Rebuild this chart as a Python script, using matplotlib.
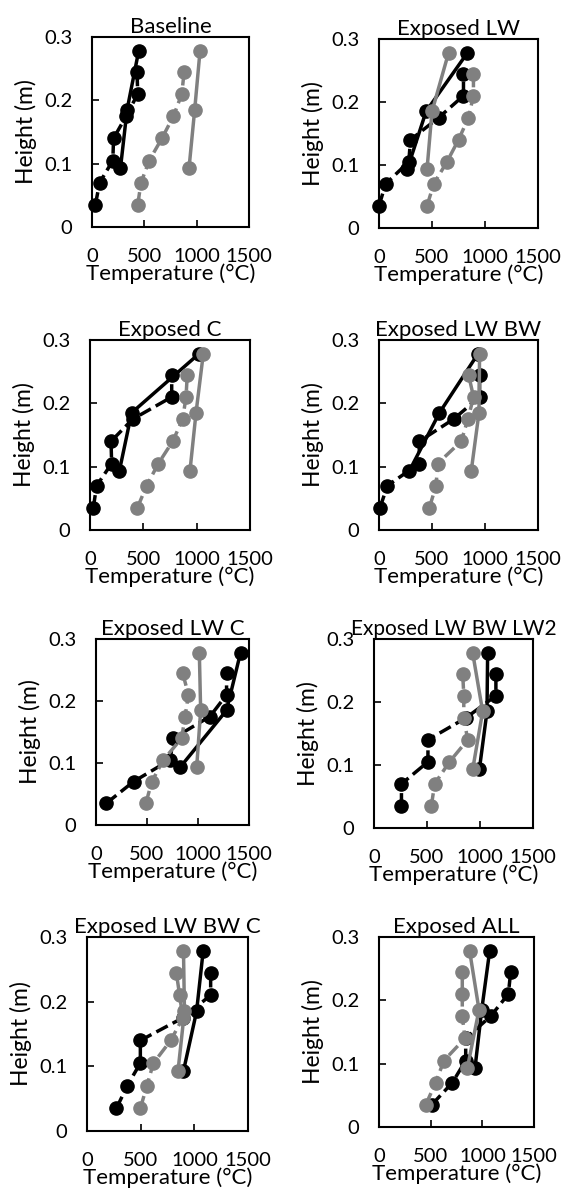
import matplotlib
matplotlib.use("Agg")
import matplotlib.pyplot as plt

plt.rcParams['font.family'] = ['Lato', 'DejaVu Sans']

# heights of the thermocouples (m)
h_solid = [0.093, 0.185, 0.278]
h_dash = [0.035, 0.070, 0.105, 0.140, 0.175, 0.210, 0.245]

titles = ['Baseline', 'Exposed LW', 'Exposed C', 'Exposed LW BW',
          'Exposed LW C', 'Exposed LW BW LW2', 'Exposed LW BW C', 'Exposed ALL']

# temperatures (°C), one list per panel
black_solid = [
    [272, 335, 446],
    [266, 444, 834],
    [275, 390, 1020],
    [285, 570, 933],
    [824, 1280, 1417],
    [994, 1066, 1072],
    [899, 1021, 1082],
    [929, 994, 1071],
]
black_dash = [
    [32, 73, 199, 206, 326, 437, 430],
    [0, 62, 281, 297, 562, 797, 797],
    [31, 62, 203, 197, 400, 766, 766],
    [9, 79, 380, 380, 703, 949, 949],
    [101, 368, 726, 759, 1117, 1280, 1280],
    [259, 259, 509, 509, 869, 1150, 1150],
    [274, 375, 497, 497, 893, 1152, 1152],
    [510, 710, 839, 839, 1081, 1252, 1274],
]
gray_solid = [
    [927, 981, 1032],
    [453, 500, 656],
    [937, 994, 1062],
    [870, 943, 949],
    [987, 1026, 1013],
    [931, 1025, 931],
    [848, 908, 899],
    [855, 968, 877],
]
gray_dash = [
    [437, 468, 547, 668, 778, 858, 880],
    [453, 516, 641, 750, 844, 891, 891],
    [444, 531, 641, 775, 869, 900, 912],
    [475, 538, 554, 775, 839, 892, 845],
    [489, 547, 661, 840, 873, 906, 850],
    [541, 572, 712, 884, 847, 847, 837],
    [497, 558, 619, 780, 893, 863, 832],
    [452, 548, 629, 832, 806, 806, 806],
]

# axes boxes in pixels: left, top, right, bottom
boxes = [
    (92, 37, 249, 227), (379, 39, 538, 228),
    (90, 340, 250, 530), (379, 340, 538, 530),
    (96, 639, 249, 825), (374, 639, 533, 828),
    (87, 937, 248, 1131), (379, 937, 534, 1127),
]

W, H = 564, 1192
fig = plt.figure(figsize=(W / 100, H / 100), dpi=100)
gray = '#808080'

for i in range(8):
    l, t, r, b = boxes[i]
    ax = fig.add_axes([l / W, 1 - b / H, (r - l) / W, (b - t) / H])
    ax.plot(black_solid[i], h_solid, '-o', color='black', lw=2.5, ms=9.5, clip_on=False)
    ax.plot(black_dash[i], h_dash, '--o', color='black', lw=2.5, ms=9.5, clip_on=False)
    ax.plot(gray_solid[i], h_solid, '-o', color=gray, lw=2.5, ms=9.5, clip_on=False)
    ax.plot(gray_dash[i], h_dash, '--o', color=gray, lw=2.5, ms=9.5, clip_on=False)
    ax.set_xlim(0, 1500)
    ax.set_ylim(0, 0.3)
    ax.set_xticks([0, 500, 1000, 1500])
    ax.set_xticklabels(['0', '500', '1000', '1500'])
    ax.set_yticks([0, 0.1, 0.2, 0.3])
    ax.set_yticklabels(['0', '0.1', '0.2', '0.3'])
    ax.tick_params(direction='in', length=5, width=1.2, labelsize=14.5)
    ax.tick_params(axis='x', pad=15)
    ax.tick_params(axis='y', pad=14)
    for s in ax.spines.values():
        s.set_linewidth(1.5)
    ax.set_xlabel('Temperature (°C)', fontsize=16, labelpad=-1)
    ax.set_ylabel('Height (m)', fontsize=16.5, labelpad=5)
    ax.set_title(titles[i], fontsize=16 if i != 5 else 15, pad=3)

fig.savefig('out.png', dpi=100)
